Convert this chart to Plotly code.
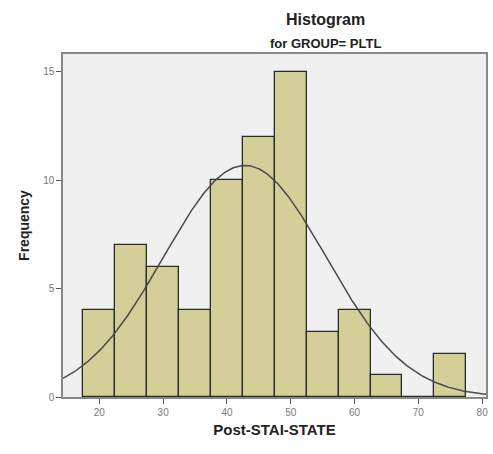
import numpy as np
import plotly.graph_objects as go

# Binned frequencies of Post-STAI-STATE (bin width 5)
bin_centers = [20, 25, 30, 35, 40, 45, 50, 55, 60, 65, 70, 75]
counts = [4, 7, 6, 4, 10, 12, 15, 3, 4, 1, 0, 2]
bin_width = 5

# Normal curve parameters
mean_val = 42.8
sd_val = 12.7
n_total = sum(counts)

x_ticks = [20, 30, 40, 50, 60, 70, 80]
y_ticks = [0, 5, 10, 15]

xs = np.linspace(14.3, 80.6, 300)
ys = n_total * bin_width / (sd_val * np.sqrt(2 * np.pi)) * np.exp(-0.5 * ((xs - mean_val) / sd_val) ** 2)

font_family = "Arial, Liberation Sans, sans-serif"

fig = go.Figure()
fig.add_trace(go.Bar(
    x=bin_centers, y=counts, width=bin_width,
    marker=dict(color="#D4CF98", line=dict(color="#2a2a2a", width=1.3)),
    hoverinfo="x+y",
))
fig.add_trace(go.Scatter(
    x=xs, y=ys, mode="lines",
    line=dict(color="#4a4a4a", width=1.5),
    hoverinfo="skip",
))

fig.update_layout(
    width=493, height=454,
    margin=dict(l=63, r=5, t=54, b=57),
    paper_bgcolor="white",
    plot_bgcolor="#F0F0F0",
    showlegend=False,
    bargap=0,
    font=dict(family=font_family, color="#444"),
    xaxis=dict(
        range=[14.3, 80.6], tickvals=x_ticks, ticks="outside", ticklen=5,
        tickcolor="#555", tickfont=dict(size=10, color="#777"),
        showgrid=False, zeroline=False,
        showline=True, linecolor="#888", linewidth=1.5, mirror=True,
        title=dict(text="<b>Post-STAI-STATE</b>", font=dict(size=15, color="#222"), standoff=8),
    ),
    yaxis=dict(
        range=[0, 15.82], tickvals=y_ticks, ticks="outside", ticklen=5,
        tickcolor="#555", tickfont=dict(size=10, color="#777"),
        showgrid=False, zeroline=False,
        showline=True, linecolor="#888", linewidth=1.5, mirror=True,
        title=dict(text="<b>Frequency</b>", font=dict(size=14, color="#222"), standoff=10),
    ),
    annotations=[
        dict(text="<b>Histogram</b>", x=327, y=19, xref="paper", yref="paper",
             showarrow=False, font=dict(size=16, color="#222")),
        dict(text="<b>for GROUP= PLTL</b>", x=327, y=44, xref="paper", yref="paper",
             showarrow=False, font=dict(size=13, color="#222")),
    ],
)

# Title annotations positioned in pixel terms converted to paper coordinates
plot_w = 493 - 63 - 5
plot_h = 454 - 54 - 57
for ann in fig.layout.annotations:
    px, py = ann.x, ann.y
    ann.x = (px - 63) / plot_w
    ann.y = (454 - 57 - py) / plot_h
    ann.xanchor = "center"
    ann.yanchor = "middle"

fig.write_html("out.html")
